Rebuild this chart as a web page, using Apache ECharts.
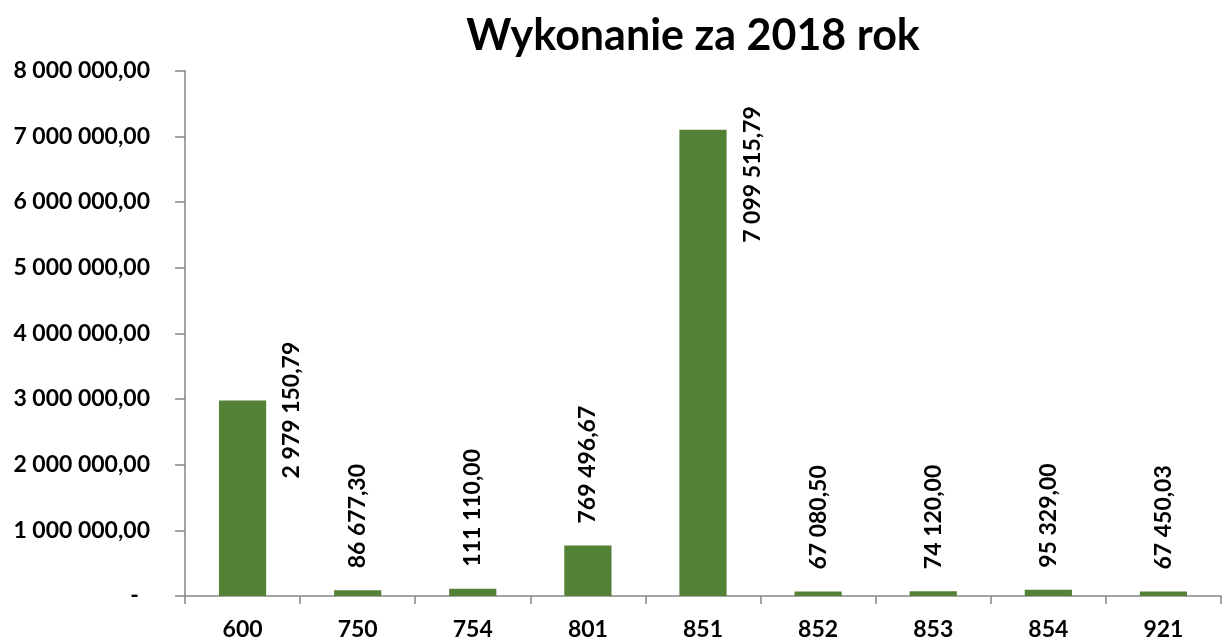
<!DOCTYPE html>
<html>
<head>
<meta charset="utf-8">
<script src="https://cdn.jsdelivr.net/npm/echarts@6/dist/echarts.min.js"></script>
<style>
  html, body { margin: 0; padding: 0; background: #fff; }
  #chart { width: 1223px; height: 641px; }
</style>
</head>
<body>
<div id="chart"></div>
<script>
const categories = ['600', '750', '754', '801', '851', '852', '853', '854', '921']
const values = [2979150.79, 86677.30, 111110.00, 769496.67, 7099515.79, 67080.50, 74120.00, 95329.00, 67450.03]
const yTicks = [0, 1000000, 2000000, 3000000, 4000000, 5000000, 6000000, 7000000, 8000000]

// labels of tall bars sit beside the bar instead of above it
// (offset is in the rotated label frame: [-down, right])
const labelOffsets = { '600': [-100, 49], '851': [-135, 50] }

const fontFamily = 'Lato, "Open Sans", sans-serif'

function plFormat(v) {
  if (v === 0) return '-\u00a0\u00a0'
  const parts = v.toFixed(2).split('.')
  const intPart = parts[0].replace(/\B(?=(\d{3})+(?!\d))/g, ' ')
  return intPart + ',' + parts[1]
}

const chart = echarts.init(document.getElementById('chart'))

const seriesData = values.map((v, i) => {
  const item = { value: v }
  const off = labelOffsets[categories[i]]
  if (off) {
    item.label = { offset: off }
  }
  return item
})

chart.setOption({
  animation: false,
  title: {
    text: 'Wykonanie za 2018 rok',
    left: 688,
    textAlign: 'center',
    top: 10,
    textStyle: {
      fontFamily: fontFamily,
      fontWeight: 'bold',
      fontSize: 43,
      color: '#000'
    }
  },
  grid: {
    left: 185,
    right: 2,
    top: 70.7,
    bottom: 44
  },
  xAxis: {
    type: 'category',
    data: categories,
    axisLine: { lineStyle: { color: '#868686', width: 1.5 } },
    axisTick: { show: true, length: 8, lineStyle: { color: '#868686', width: 1.5 } },
    axisLabel: {
      margin: 22,
      fontFamily: fontFamily,
      fontWeight: 'bold',
      fontSize: 23,
      color: '#000'
    }
  },
  yAxis: {
    type: 'value',
    min: 0,
    max: yTicks[yTicks.length - 1],
    interval: yTicks[1] - yTicks[0],
    splitLine: { show: false },
    axisLine: { show: true, lineStyle: { color: '#868686', width: 1.5 } },
    axisTick: { show: true, length: 10, lineStyle: { color: '#868686', width: 1.5 } },
    axisLabel: {
      margin: 35,
      formatter: plFormat,
      fontFamily: fontFamily,
      fontWeight: 'bold',
      fontSize: 23,
      color: '#000'
    }
  },
  series: [{
    type: 'bar',
    data: seriesData,
    barWidth: '41%',
    itemStyle: { color: '#538135' },
    label: {
      show: true,
      position: 'top',
      distance: 22,
      rotate: 90,
      align: 'left',
      verticalAlign: 'middle',
      formatter: p => plFormat(p.value),
      fontFamily: fontFamily,
      fontWeight: 'bold',
      fontSize: 23,
      color: '#000'
    }
  }]
})
</script>
</body>
</html>
